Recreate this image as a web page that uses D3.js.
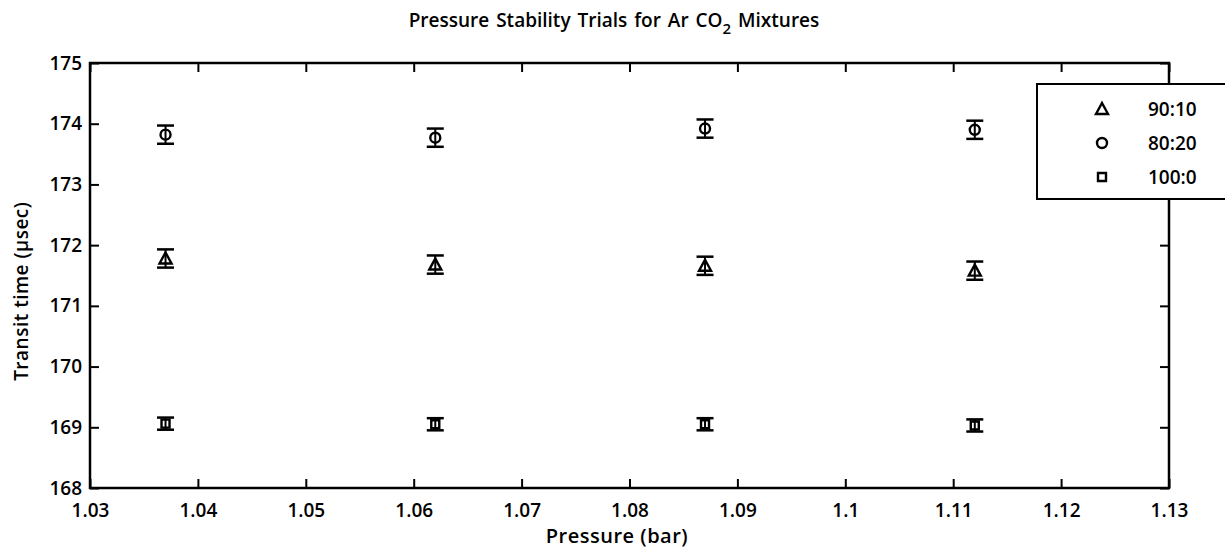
<!DOCTYPE html>
<html>
<head>
<meta charset="utf-8">
<script src="https://cdn.jsdelivr.net/npm/d3@7"></script>
<style>
  body { margin: 0; background: #fff; }
  svg text { font-family: "Open Sans", "DejaVu Sans", sans-serif; font-weight: 600; }
</style>
</head>
<body>
<div id="chart"></div>
<script>
// Data
const pressures = [1.037, 1.062, 1.087, 1.112]
const series = ['90:10', '80:20', '100:0']
const symbols = ['triangle', 'circle', 'square']
const mix9010 = [171.78, 171.68, 171.66, 171.58]
const mix8020 = [173.82, 173.77, 173.92, 173.90]
const mix1000 = [169.06, 169.05, 169.05, 169.03]
const err9010 = [0.15, 0.15, 0.15, 0.15]
const err8020 = [0.15, 0.15, 0.15, 0.15]
const err1000 = [0.1, 0.1, 0.1, 0.1]
const xTicks = [1.03, 1.04, 1.05, 1.06, 1.07, 1.08, 1.09, 1.1, 1.11, 1.12, 1.13]
const yTicks = [168, 169, 170, 171, 172, 173, 174, 175]

const width = 1225
const height = 550
const margin = {top: 63, right: 56, bottom: 62, left: 90}
const fontSize = '19px'

const svg = d3.select('#chart')
  .append('svg')
  .attr('width', width)
  .attr('height', height)

const x = d3.scaleLinear()
  .domain([1.03, 1.13])
  .range([margin.left, width - margin.right])

const y = d3.scaleLinear()
  .domain([168, 175])
  .range([height - margin.bottom, margin.top])

// Axes (ticks inward, mirrored on top and right)
const tickLen = 9
svg.append('g')
  .attr('transform', 'translate(0,' + y(168) + ')')
  .call(d3.axisBottom(x).tickValues(xTicks).tickSizeInner(-tickLen).tickSizeOuter(0)
    .tickPadding(16).tickFormat(d3.format('~g')))
  .call(g => g.select('.domain').remove())
  .selectAll('text')
  .style('font-size', fontSize)
  .attr('fill', '#000')

svg.append('g')
  .attr('transform', 'translate(0,' + y(175) + ')')
  .call(d3.axisTop(x).tickValues(xTicks).tickSizeInner(-tickLen).tickSizeOuter(0).tickFormat(''))
  .call(g => g.select('.domain').remove())

svg.append('g')
  .attr('transform', 'translate(' + x(1.03) + ',0)')
  .call(d3.axisLeft(y).tickValues(yTicks).tickSizeInner(-tickLen).tickSizeOuter(0)
    .tickPadding(8).tickFormat(d3.format('d')))
  .call(g => g.select('.domain').remove())
  .selectAll('text')
  .style('font-size', fontSize)
  .attr('fill', '#000')

svg.append('g')
  .attr('transform', 'translate(' + x(1.13) + ',0)')
  .call(d3.axisRight(y).tickValues(yTicks).tickSizeInner(-tickLen).tickSizeOuter(0).tickFormat(''))
  .call(g => g.select('.domain').remove())

svg.selectAll('.tick line').attr('stroke', '#000').attr('stroke-width', 2)

// Frame
svg.append('rect')
  .attr('x', x(1.03))
  .attr('y', y(175))
  .attr('width', x(1.13) - x(1.03))
  .attr('height', y(168) - y(175))
  .attr('fill', 'none')
  .attr('stroke', '#000')
  .attr('stroke-width', 2.5)

const symbolPath = (type, px, py) => {
  if (type === 'triangle') {
    return `M${px},${py - 6}L${px + 6},${py + 5}L${px - 6},${py + 5}Z`
  } else if (type === 'circle') {
    return `M${px + 5},${py}A5,5 0 1,1 ${px - 5},${py}A5,5 0 1,1 ${px + 5},${py}Z`
  }
  return `M${px - 4},${py - 4}h8v8h-8Z`
}

const drawSeries = (values, errors, type) => {
  const data = pressures.map((p, i) => ({p: p, v: values[i], e: errors[i]}))
  const g = svg.append('g')
  const capW = 8.5
  data.forEach(d => {
    const cx = x(d.p)
    g.append('line')
      .attr('x1', cx).attr('x2', cx)
      .attr('y1', y(d.v + d.e)).attr('y2', y(d.v - d.e))
      .attr('stroke', '#000').attr('stroke-width', 2)
    ;[d.v + d.e, d.v - d.e].forEach(val => {
      g.append('line')
        .attr('x1', cx - capW).attr('x2', cx + capW)
        .attr('y1', y(val)).attr('y2', y(val))
        .attr('stroke', '#000').attr('stroke-width', 2.5)
    })
    g.append('path')
      .attr('d', symbolPath(type, cx, y(d.v)))
      .attr('fill', 'none')
      .attr('stroke', '#000')
      .attr('stroke-width', 2.4)
  })
}

drawSeries(mix9010, err9010, 'triangle')
drawSeries(mix8020, err8020, 'circle')
drawSeries(mix1000, err1000, 'square')

// Legend
const legend = svg.append('g')
legend.append('rect')
  .attr('x', 1037).attr('y', 84)
  .attr('width', 200).attr('height', 115)
  .attr('fill', '#fff')
  .attr('stroke', '#000')
  .attr('stroke-width', 2)

series.forEach((name, i) => {
  const ly = 109 + i * 34
  legend.append('path')
    .attr('d', symbolPath(symbols[i], 1102, ly))
    .attr('fill', 'none')
    .attr('stroke', '#000')
    .attr('stroke-width', 2.4)
  legend.append('text')
    .attr('x', 1148)
    .attr('y', ly + 7)
    .style('font-size', fontSize)
    .attr('fill', '#000')
    .text(name)
})

// Title and axis labels
const title = svg.append('text')
  .attr('x', 614)
  .attr('y', 27)
  .attr('text-anchor', 'middle')
  .style('font-size', '19px')
  .style('word-spacing', '2px')
  .attr('fill', '#000')
title.append('tspan').text('Pressure Stability Trials for Ar CO')
title.append('tspan').attr('dy', 7).style('font-size', '15px').text('2')
title.append('tspan').attr('dy', -7).text(' Mixtures')

svg.append('text')
  .attr('x', 617)
  .attr('y', 543)
  .attr('text-anchor', 'middle')
  .style('font-size', '20px')
  .style('letter-spacing', '0.5px')
  .attr('fill', '#000')
  .text('Pressure (bar)')

svg.append('text')
  .attr('transform', 'translate(28,' + y(171.24) + ') rotate(-90)')
  .attr('text-anchor', 'middle')
  .style('font-size', '19px')
  .style('letter-spacing', '0.5px')
  .attr('fill', '#000')
  .text('Transit time (µsec)')
</script>
</body>
</html>
